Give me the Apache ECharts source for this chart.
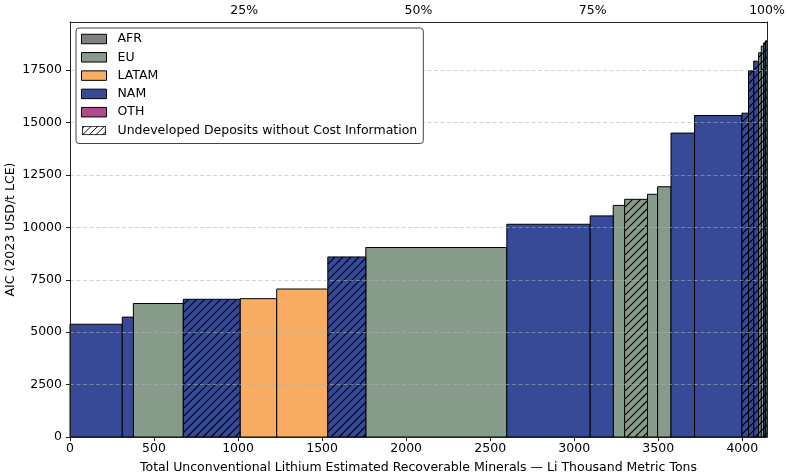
<!DOCTYPE html>
<html>
<head>
<meta charset="utf-8">
<script src="https://cdn.jsdelivr.net/npm/echarts@6/dist/echarts.min.js"></script>
<style>html,body{margin:0;padding:0;background:#fff}#c{width:788px;height:472px}</style>
</head>
<body>
<div id="c"></div>
<script>
// ---- data ----
const regionNames = ['AFR', 'EU', 'LATAM', 'NAM', 'OTH'];
const regionColors = ['#808080', '#869b8a', '#f9ad62', '#364a98', '#b04a8d'];
const hatchLabel = 'Undeveloped Deposits without Cost Information';
const barRegion = ['NAM','NAM','EU','NAM','LATAM','LATAM','NAM','EU','NAM','NAM','EU','EU','EU','EU','NAM','NAM','NAM','NAM','NAM','EU','EU','NAM','EU'];
const barWidth = [311,66,297,338,218,304,226,839,496,137,68,136,60,80,140,282,39,31,29,16,14,10,10];
const barCost = [5380,5720,6370,6570,6600,7060,8590,9040,10150,10550,11050,11340,11580,11940,14500,15340,15450,17470,17930,18330,18650,18800,18900];
const barHatched = [0,0,0,1,0,0,1,0,0,0,0,1,0,0,0,0,1,1,1,1,1,1,1];
const xTicks = [0,500,1000,1500,2000,2500,3000,3500,4000];
const yTicks = [0,2500,5000,7500,10000,12500,15000,17500];
const pctTicks = [25,50,75,100];
const xMax = 4147;
const yMax = 19800;

// ---- build ----
const starts = [];
let acc = 0;
barWidth.forEach(w => { starts.push(acc); acc += w; });

function renderItem(params, api) {
  const xs = api.value(0), xe = api.value(1), v = api.value(2), hat = api.value(3);
  const tl = api.coord([xs, v]);
  const br = api.coord([xe, 0]);
  const x = tl[0], y = tl[1], w = br[0] - tl[0], h = br[1] - tl[1];
  const color = api.visual('color');
  const children = [{type: 'rect', shape: {x, y, width: w, height: h}, style: {fill: color}}];
  if (hat) {
    const d = 8;
    const cmin = x + y, cmax = x + w + y + h;
    for (let k = Math.ceil(cmin / d); k * d <= cmax; k++) {
      const c = k * d;
      const xa = Math.max(x, c - (y + h));
      const xb = Math.min(x + w, c - y);
      if (xb > xa) children.push({type: 'line', shape: {x1: xa, y1: c - xa, x2: xb, y2: c - xb}, style: {stroke: '#000', lineWidth: 1.1}});
    }
  }
  children.push({type: 'rect', shape: {x, y, width: w, height: h}, style: {fill: 'none', stroke: '#000', lineWidth: 1}});
  return {type: 'group', children};
}

const series = regionNames.map((r, ri) => ({
  type: 'custom',
  name: r,
  renderItem,
  itemStyle: {color: regionColors[ri]},
  dimensions: ['start', 'end', 'cost', 'hatched'],
  encode: {x: [0, 1], y: 2},
  data: barRegion.map((br, i) => br === r ? [starts[i], starts[i] + barWidth[i], barCost[i], barHatched[i]] : null).filter(d => d)
}));
series.push({type: 'custom', name: hatchLabel, renderItem, data: [], itemStyle: {color: '#fff'}});

const hatchSvg = '<svg xmlns="http://www.w3.org/2000/svg" width="25" height="10"><rect x="0.5" y="0.5" width="24" height="9" fill="white" stroke="black"/><path d="M-7 10L3 0M0 10L10 0M7 10L17 0M14 10L24 0M21 10L31 0" stroke="black" stroke-width="1"/></svg>';

const font = 'DejaVu Sans';
const fs = 12.5;
const legendData = regionNames.map((r, ri) => ({name: r, icon: 'rect', itemStyle: {color: regionColors[ri], borderColor: '#000', borderWidth: 1}}));
legendData.push({name: hatchLabel, icon: 'image://data:image/svg+xml;charset=utf-8,' + encodeURIComponent(hatchSvg)});

const chart = echarts.init(document.getElementById('c'), null, {renderer: 'canvas'});
chart.setOption({
  animation: false,
  textStyle: {fontFamily: font},
  grid: {left: 70, right: 21, top: 22, bottom: 35, containLabel: false, outerBoundsMode: 'none'},
  legend: {
    z: 20,
    orient: 'vertical',
    left: 76, top: 28,
    padding: [4, 6, 6, 5],
    itemWidth: 25, itemHeight: 9.5,
    itemGap: 4.3,
    selectedMode: false,
    backgroundColor: '#fff',
    borderColor: '#444',
    borderWidth: 1,
    borderRadius: 3,
    textStyle: {fontFamily: font, fontSize: fs, color: '#000', lineHeight: 14, padding: [0, 0, 0, 6]},
    data: legendData
  },
  xAxis: [{
    type: 'value', min: 0, max: xMax, interval: 500, position: 'bottom', z: 10,
    name: 'Total Unconventional Lithium Estimated Recoverable Minerals \u2014 Li Thousand Metric Tons',
    nameLocation: 'middle', nameGap: 24, nameMoveOverlap: false,
    nameTextStyle: {fontFamily: font, fontSize: fs, color: '#000'},
    axisLine: {show: true, lineStyle: {color: '#222', width: 1}},
    axisTick: {show: true, length: 4, lineStyle: {color: '#222'}, customValues: xTicks},
    axisLabel: {margin: 5, fontSize: fs, color: '#000', fontFamily: font, customValues: xTicks, formatter: v => String(v)},
    splitLine: {show: false}
  }, {
    type: 'value', min: 0, max: 100, interval: 25, position: 'top', z: 10,
    axisLine: {show: true, onZero: false, lineStyle: {color: '#222', width: 1}},
    axisTick: {show: false},
    axisLabel: {margin: 5, fontSize: fs, color: '#000', fontFamily: font, customValues: pctTicks, formatter: v => v + '%'},
    splitLine: {show: false}
  }],
  yAxis: [{
    type: 'value', min: 0, max: yMax, interval: 2500, position: 'left', z: 10,
    name: 'AIC (2023 USD/t LCE)', nameLocation: 'middle', nameGap: 53, nameMoveOverlap: false,
    nameTextStyle: {fontFamily: font, fontSize: fs, color: '#000'},
    axisLine: {show: true, lineStyle: {color: '#222', width: 1}},
    axisTick: {show: true, length: 4, lineStyle: {color: '#222'}, customValues: yTicks},
    axisLabel: {margin: 8, fontSize: fs, color: '#000', fontFamily: font, customValues: yTicks, formatter: v => String(v)},
    splitLine: {show: true, lineStyle: {color: 'rgba(176,176,176,0.7)', width: 0.8, type: [4, 2.5]}}
  }, {
    type: 'value', min: 0, max: yMax, position: 'right', z: 10,
    axisLine: {show: true, onZero: false, lineStyle: {color: '#222', width: 1}},
    axisTick: {show: false}, axisLabel: {show: false}, splitLine: {show: false}
  }],
  series
});
</script>
</body>
</html>
